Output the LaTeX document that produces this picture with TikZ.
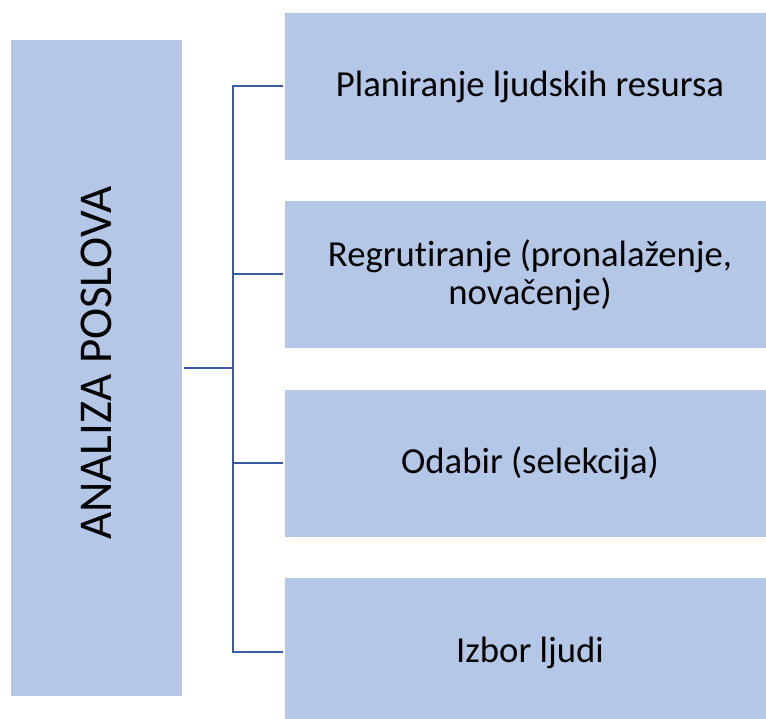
\documentclass[tikz,border=0pt]{standalone}
\usepackage{fontspec}
\setmainfont{Carlito}[Ligatures={NoCommon}]
\definecolor{boxfill}{HTML}{B4C7E7}
\definecolor{linec}{HTML}{3A5BA0}
\begin{document}
\begin{tikzpicture}[x=1pt,y=-1pt,
  box/.style={fill=boxfill, draw=none, inner sep=0pt, minimum width=490pt, minimum height=147pt},
  leftbox/.style={fill=boxfill, draw=none, inner sep=0pt, minimum width=171pt, minimum height=656pt},
  conn/.style={draw=linec, line width=2pt},
  lbl/.style={font=\fontsize{36.7}{38.3}\selectfont, anchor=base, align=center, inner sep=0pt}]
\useasboundingbox (0,0) rectangle (766,719);
\node[leftbox] (lb) at (96.5,368) {};
\node[box] (b1) at (530,86.5) {};
\node[box] (b2) at (530,274.5) {};
\node[box] (b3) at (530,463) {};
\node[box] (b4) at (530,651.5) {};
\node[lbl, rotate=90, font=\fontsize{47}{50}\selectfont] (t0) at (111,363) {ANALIZA POSLOVA};
\node[lbl] (t1) at (530,97) {Planiranje ljudskih resursa};
\node[lbl] (t2) at (530,305) {Regrutiranje (pronalaženje,\\novačenje)};
\node[lbl] (t3) at (530,473) {Odabir (selekcija)};
\node[lbl] (t4) at (530,662) {Izbor ljudi};
\coordinate (j) at (233,368);
\draw[conn, shorten <=2pt] (lb.east |- j) -- (j);
\draw[conn, shorten <=2pt, shorten >=2pt] (b1.west) -- (j |- b1.west) -- (j |- b4.west) -- (b4.west);
\draw[conn, shorten >=2pt] (j |- b2.west) -- (b2.west);
\draw[conn, shorten >=2pt] (j |- b3.west) -- (b3.west);
\end{tikzpicture}
\end{document}
